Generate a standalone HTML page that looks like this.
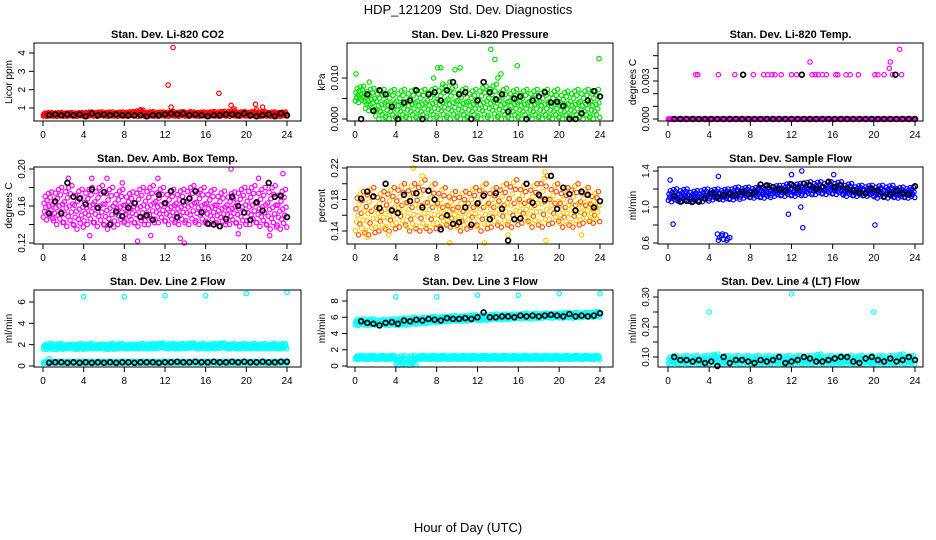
<!DOCTYPE html>
<html><head><meta charset="utf-8">
<style>
html,body{margin:0;padding:0;background:#fff;}
svg{display:block;font-family:"Liberation Sans",Arial,sans-serif;}
</style></head>
<body>
<svg id="chart" width="936" height="540" viewBox="0 0 936 540" xmlns="http://www.w3.org/2000/svg">
<text x="468" y="14" text-anchor="middle" font-size="13">HDP_121209&#160; Std. Dev. Diagnostics</text>
<text x="468" y="532" text-anchor="middle" font-size="13">Hour of Day (UTC)</text>
</svg>
<script>
// ---------- data ----------
const xTicks = [0,4,8,12,16,20,24];
const blackHoursStep = 0.6; // black points at 0.6,1.2,...,24

const co2Black = [0.6,0.65,0.6,0.65,0.6,0.65,0.55,0.7,0.6,0.65,0.6,0.65,0.6,0.6,0.6,0.6,0.55,0.6,0.6,0.65,0.7,0.65,0.7,0.6,0.65,0.6,0.55,0.6,0.6,0.65,0.65,0.6,0.7,0.6,0.55,0.6,0.65,0.55,0.7,0.6];
const co2Lo = [0.55,0.55,0.55,0.55,0.55,0.55,0.55,0.55,0.55,0.55,0.55,0.55,0.55,0.55,0.55,0.55,0.55,0.55,0.55,0.55,0.55,0.55,0.55,0.55];
const co2Hi = [0.75,0.75,0.75,0.75,0.78,0.78,0.78,0.78,0.8,0.88,0.8,0.78,0.8,0.8,0.78,0.78,0.8,0.82,0.85,0.8,0.8,0.8,0.78,0.78];
const co2Out = [[12.8,4.3],[12.3,2.25],[17.3,1.8],[12.6,1.05],[18.5,1.15],[20.9,1.2],[21.6,1.05],[21.0,0.9],[18.8,0.95],[9.6,0.9],[14.5,0.8]];

const presBlack = [0,0.006,0.002,0.007,0.006,0.003,0,0.004,0.0045,0.007,0,0.006,0.0065,0.0045,0.007,0.009,0.006,0.0065,0,0.0045,0.009,0.0065,0.0048,0.006,0.0018,0.005,0.0055,0,0.0045,0.0055,0.0065,0.004,0.0042,0.0032,0,0,0.0014,0.0045,0.0068,0.0055];
const presLo = [0.004,0.002,0,0,0,0,0,0,0,0,0,0,0,0,0,0,0,0,0,0,0,0,0,0];
const presHi = [0.008,0.0075,0.0072,0.0072,0.0072,0.0072,0.0072,0.0075,0.008,0.008,0.0075,0.0072,0.008,0.0085,0.0075,0.0072,0.0072,0.0072,0.0072,0.0072,0.0068,0.0072,0.0072,0.0072];
const presOut = [[0.1,0.011],[1.4,0.009],[7.7,0.010],[8.1,0.0125],[8.4,0.0125],[9.8,0.012],[10.3,0.0125],[13.3,0.017],[13.7,0.0145],[15.9,0.013],[23.9,0.0147],[14.3,0.011],[14.0,0.010],[8.6,0.0085],[9.3,0.009]];

const tempBlack = [0,0,0,0,0,0,0,0,0,0,0,0,0,0,0,0,0,0,0,0,0,0,0,0,0,0,0,0,0,0,0,0,0,0,0,0,0,0,0,0];
const tempLo = [0,0,0,0,0,0,0,0,0,0,0,0,0,0,0,0,0,0,0,0,0,0,0,0];
const tempHi = [0,0,0,0,0,0,0,0,0,0,0,0,0,0,0,0,0,0,0,0,0,0,0,0];
const tempOut = [[2.7,0.0035],[2.9,0.0035],[4.9,0.0035],[6.5,0.0035],[8.3,0.0035],[9.3,0.0035],[9.7,0.0035],[10.1,0.0035],[10.4,0.0035],[11,0.0035],[12,0.0035],[12.5,0.0035],[14,0.0035],[14.3,0.0035],[14.6,0.0035],[15,0.0035],[15.4,0.0035],[16.3,0.0035],[16.5,0.0035],[17.3,0.0035],[17.7,0.0035],[18.5,0.0035],[20.1,0.0035],[20.4,0.0035],[21,0.0035],[21.8,0.0035],[22.7,0.0035],[13.8,0.0045],[21.5,0.004],[21.6,0.0045],[22.5,0.0055]];
const tempBlackExtra = [[7.3,0.0035],[13,0.0035],[22.1,0.0035]];

const ambBlack = [0.152,0.165,0.152,0.185,0.17,0.168,0.162,0.178,0.158,0.175,0.14,0.154,0.149,0.158,0.163,0.148,0.15,0.145,0.172,0.163,0.176,0.148,0.165,0.168,0.176,0.153,0.141,0.14,0.138,0.146,0.17,0.16,0.153,0.145,0.164,0.155,0.185,0.17,0.171,0.148];
const ambLo = [0.145,0.14,0.138,0.135,0.14,0.138,0.135,0.14,0.14,0.138,0.14,0.142,0.14,0.14,0.14,0.14,0.14,0.138,0.14,0.138,0.14,0.138,0.135,0.135];
const ambHi = [0.175,0.18,0.182,0.178,0.18,0.182,0.18,0.178,0.175,0.18,0.182,0.18,0.178,0.178,0.182,0.18,0.178,0.176,0.175,0.18,0.182,0.18,0.182,0.178];
const ambOut = [[2.5,0.19],[4.8,0.19],[6.3,0.19],[11.3,0.19],[18.5,0.2],[23.6,0.195],[9.3,0.122],[13.5,0.125],[13.9,0.12],[4.6,0.128],[10.6,0.128],[19.2,0.13],[22.3,0.128],[21.2,0.19],[7.8,0.185]];

const rhBlack = [0.181,0.19,0.184,0.169,0.2,0.166,0.163,0.186,0.178,0.188,0.17,0.191,0.18,0.142,0.16,0.149,0.151,0.17,0.148,0.175,0.185,0.155,0.188,0.168,0.128,0.155,0.156,0.2,0.176,0.186,0.18,0.21,0.168,0.195,0.187,0.166,0.19,0.186,0.17,0.178];
const rhLo = [0.135,0.135,0.14,0.14,0.145,0.14,0.14,0.14,0.145,0.145,0.14,0.145,0.14,0.145,0.145,0.145,0.15,0.145,0.145,0.15,0.145,0.145,0.15,0.15];
const rhHi = [0.19,0.195,0.19,0.195,0.2,0.2,0.205,0.2,0.195,0.19,0.19,0.195,0.2,0.195,0.2,0.205,0.2,0.2,0.21,0.2,0.195,0.2,0.195,0.19];
const rhOut = [[5.7,0.22],[6.6,0.21],[9.3,0.125],[12.7,0.125],[18.6,0.215],[18.7,0.128],[1.2,0.132],[3.3,0.135],[22.2,0.135],[15.0,0.135]];

const flowBlack = [1.12,1.06,1.07,1.06,1.06,1.1,1.15,1.11,1.13,1.15,1.13,1.17,1.14,1.16,1.25,1.24,1.22,1.2,1.18,1.25,1.21,1.26,1.24,1.2,1.22,1.28,1.22,1.24,1.2,1.18,1.16,1.15,1.2,1.18,1.12,1.14,1.18,1.15,1.14,1.23];
const flowLo = [1.06,1.06,1.05,1.06,1.08,1.08,1.08,1.1,1.1,1.1,1.12,1.12,1.12,1.13,1.14,1.14,1.14,1.12,1.12,1.12,1.1,1.1,1.1,1.1];
const flowHi = [1.2,1.2,1.18,1.2,1.2,1.2,1.22,1.22,1.22,1.24,1.24,1.26,1.26,1.28,1.28,1.28,1.28,1.26,1.24,1.24,1.24,1.24,1.22,1.22];
const flowOut = [[0.2,1.3],[0.5,0.81],[4.9,1.34],[11.7,0.92],[13.1,0.77],[20.1,0.8],[13,1.4],[12,1.36],[16.1,1.36],[12.9,1.0],[4.8,0.7],[5.0,0.66],[5.2,0.68],[5.4,0.64],[5.6,0.69],[5.8,0.65],[6.0,0.66],[4.9,0.63],[5.3,0.7],[5.7,0.63]];

const l2Black = [0.3,0.35,0.35,0.3,0.35,0.3,0.35,0.3,0.35,0.3,0.35,0.3,0.35,0.35,0.3,0.35,0.35,0.35,0.3,0.35,0.35,0.4,0.35,0.35,0.4,0.35,0.35,0.4,0.35,0.35,0.4,0.35,0.4,0.35,0.35,0.4,0.35,0.35,0.4,0.4];
const l2Lo = [1.55,1.55,1.6,1.55,1.6,1.6,1.55,1.6,1.6,1.6,1.6,1.65,1.6,1.6,1.65,1.6,1.6,1.65,1.6,1.6,1.6,1.6,1.6,1.6];
const l2Hi = [2.1,2.1,2.05,2.1,2.1,2.05,2.1,2.1,2.05,2.1,2.1,2.15,2.1,2.1,2.15,2.1,2.1,2.15,2.1,2.1,2.1,2.1,2.1,2.1];
const l2Lo2 = [0.25,0.25,0.25,0.25,0.25,0.25,0.25,0.25,0.25,0.25,0.25,0.25,0.25,0.25,0.25,0.25,0.25,0.25,0.25,0.25,0.25,0.25,0.25,0.25];
const l2Hi2 = [0.45,0.45,0.45,0.45,0.45,0.45,0.45,0.45,0.45,0.45,0.45,0.45,0.45,0.45,0.45,0.45,0.45,0.45,0.45,0.45,0.45,0.45,0.45,0.45];
const l2Out = [[4,6.5],[8,6.5],[12,6.6],[16,6.6],[20,6.8],[24,6.9],[0.6,0.7]];

const l3Black = [5.5,5.3,5.2,5.0,5.3,5.4,5.2,5.6,5.5,5.7,5.6,5.8,5.7,5.6,5.9,5.8,5.8,5.9,5.8,6.0,6.6,6.0,6.0,6.1,6.1,6.0,6.2,6.1,6.2,6.1,6.2,6.3,6.2,6.1,6.4,6.1,6.2,6.1,6.2,6.5];
const l3Lo = [5.0,5.0,5.0,5.0,5.0,5.1,5.2,5.3,5.4,5.5,5.5,5.6,5.6,5.7,5.7,5.8,5.8,5.8,5.9,5.9,5.9,5.9,6.0,6.0];
const l3Hi = [5.8,5.8,5.7,5.8,5.9,6.0,6.0,6.1,6.1,6.2,6.2,6.3,6.3,6.4,6.4,6.4,6.5,6.5,6.5,6.5,6.6,6.6,6.6,6.7];
const l3Lo2 = [0.8,0.8,0.8,0.8,0.1,0.1,0.8,0.8,0.8,0.8,0.8,0.8,0.8,0.8,0.8,0.8,0.8,0.8,0.8,0.8,0.8,0.8,0.8,0.8];
const l3Hi2 = [1.3,1.3,1.3,1.3,1.3,1.3,1.3,1.3,1.3,1.3,1.3,1.3,1.3,1.3,1.3,1.3,1.3,1.3,1.3,1.3,1.3,1.3,1.3,1.3];
const l3Out = [[4,8.5],[8,8.5],[12,8.7],[16,8.7],[20,8.9],[24,8.9]];

const l4Black = [0.1,0.09,0.09,0.085,0.09,0.08,0.085,0.07,0.1,0.08,0.09,0.09,0.085,0.08,0.09,0.085,0.09,0.1,0.08,0.085,0.09,0.1,0.095,0.085,0.085,0.09,0.095,0.1,0.1,0.085,0.08,0.095,0.1,0.09,0.085,0.095,0.085,0.09,0.1,0.09];
const l4Lo = [0.075,0.075,0.075,0.075,0.075,0.075,0.075,0.075,0.075,0.075,0.075,0.075,0.075,0.075,0.075,0.075,0.075,0.075,0.075,0.075,0.075,0.075,0.075,0.075];
const l4Hi = [0.105,0.105,0.105,0.105,0.11,0.105,0.105,0.105,0.105,0.105,0.105,0.105,0.105,0.105,0.11,0.105,0.105,0.105,0.105,0.105,0.105,0.105,0.11,0.105];
const l4Out = [[4,0.25],[12,0.31],[20,0.25]];

// ---------- layout ----------
const cols = [{l:34,r:301,x0:43,x24:287},{l:347,r:613,x0:355,x24:600},{l:658,r:923,x0:668,x24:915}];
const rows = [{t:43,b:121},{t:167,b:244},{t:290,b:367}];
const FR = [0.1,0.6,0.3,0.85,0.45,0.0,0.7,0.25,0.95,0.5,0.15,0.8,0.35,1.0,0.55,0.05];

const panels = [
 {name:'co2',title:'Stan. Dev. Li-820 CO2',ylab:'Licor ppm',c:0,r:0,v0:1,p0:108,v1:4,p1:53,ticks:[1,2,3,4],labels:['1','2','3','4'],col:'#ff0000',black:co2Black,bands:[[co2Lo,co2Hi]],out:co2Out},
 {name:'pressure',title:'Stan. Dev. Li-820 Pressure',ylab:'kPa',c:1,r:0,v0:0,p0:119,v1:0.01,p1:78,ticks:[0,0.005,0.010],labels:['0.000','','0.010'],col:'#00e000',black:presBlack,bands:[[presLo,presHi]],out:presOut},
 {name:'li820-temp',title:'Stan. Dev. Li-820 Temp.',ylab:'degrees C',c:2,r:0,v0:0,p0:119,v1:0.003,p1:81,ticks:[0,0.001,0.002,0.003,0.004,0.005],labels:['0.000','','','0.003','',''],col:'#ff00ff',black:tempBlack,bands:[[tempLo,tempHi]],out:tempOut,blackExtra:tempBlackExtra},
 {name:'amb-box-temp',title:'Stan. Dev. Amb. Box Temp.',ylab:'degrees C',c:0,r:1,v0:0.12,p0:243,v1:0.2,p1:169,ticks:[0.12,0.14,0.16,0.18,0.2],labels:['0.12','','0.16','','0.20'],col:'#ff00ff',black:ambBlack,bands:[[ambLo,ambHi]],out:ambOut},
 {name:'gas-stream-rh',title:'Stan. Dev. Gas Stream RH',ylab:'percent',c:1,r:1,v0:0.14,p0:231,v1:0.22,p1:168,ticks:[0.14,0.16,0.18,0.2,0.22],labels:['0.14','','0.18','','0.22'],col:'#ffcc00',col2:'#ff5000',black:rhBlack,bands:[[rhLo,rhHi]],out:rhOut},
 {name:'sample-flow',title:'Stan. Dev. Sample Flow',ylab:'ml/min',c:2,r:1,v0:0.6,p0:243,v1:1.4,p1:171,ticks:[0.6,0.8,1.0,1.2,1.4],labels:['0.6','','1.0','','1.4'],col:'#0000ff',black:flowBlack,bands:[[flowLo,flowHi]],out:flowOut},
 {name:'line2-flow',title:'Stan. Dev. Line 2 Flow',ylab:'ml/min',c:0,r:2,v0:0,p0:366,v1:6,p1:302,ticks:[0,2,4,6],labels:['0','2','4','6'],col:'#00ffff',black:l2Black,bands:[[l2Lo,l2Hi],[l2Lo2,l2Hi2]],out:l2Out},
 {name:'line3-flow',title:'Stan. Dev. Line 3 Flow',ylab:'ml/min',c:1,r:2,v0:0,p0:366,v1:8,p1:301,ticks:[0,2,4,6,8],labels:['0','2','4','6','8'],col:'#00ffff',black:l3Black,bands:[[l3Lo,l3Hi],[l3Lo2,l3Hi2]],out:l3Out},
 {name:'line4-flow',title:'Stan. Dev. Line 4 (LT) Flow',ylab:'ml/min',c:2,r:2,v0:0.1,p0:357,v1:0.3,p1:297,ticks:[0.1,0.15,0.2,0.25,0.3],labels:['0.10','','0.20','','0.30'],col:'#00ffff',black:l4Black,bands:[[l4Lo,l4Hi]],out:l4Out}
];

const NS='http://www.w3.org/2000/svg';
const svg=document.getElementById('chart');
function mk(tag,attrs,parent){const e=document.createElementNS(NS,tag);for(const k in attrs)e.setAttribute(k,attrs[k]);(parent||svg).appendChild(e);return e;}

panels.forEach(p=>{
  const C=cols[p.c], R=rows[p.r];
  const g=mk('g',{});
  
  
  const xs=h=>C.x0+(C.x24-C.x0)*h/24;
  const ys=v=>p.p0+(p.p1-p.p0)*(v-p.v0)/(p.v1-p.v0);
  const pg=mk('g',{},g);
  
  
  const dot=(h,v,stroke,w,r,nm)=>{const y=ys(v);if(y<R.t-3||y>R.b+3)return;
    const c=mk('circle',{cx:xs(h).toFixed(1),cy:y.toFixed(1),r:r,fill:'none',stroke:stroke,'stroke-width':w},pg);
    
    };
  p.bands.forEach(b=>{
    for(let h=0;h<24;h++){for(let k=0;k<16;k++){
      const v=b[0][h]+FR[k]*(b[1][h]-b[0][h]);
      const s=p.col2&&(k%2)?p.col2:p.col;
      dot(h+(k+0.5)/16,v,s,1.2,2.2,'color-point');}}
  });
  p.out.forEach(o=>dot(o[0],o[1],p.col,1.2,2.2,'outlier-point'));
  p.black.forEach((v,i)=>dot((i+1)*blackHoursStep,v,'#000',1.7,2.4,'hourly-point'));
  (p.blackExtra||[]).forEach(o=>dot(o[0],o[1],'#000',1.7,2.4,'hourly-point'));
  const box=mk('rect',{x:C.l,y:R.t,width:C.r-C.l,height:R.b-R.t,fill:'none',stroke:'#000','stroke-width':1},g);
  
  
  const t=mk('text',{x:(C.l+C.r)/2,y:R.t-5,'text-anchor':'middle','font-size':11,'font-weight':'bold'},g);
  t.textContent=p.title;
  
  
  mk('line',{x1:xs(0),x2:xs(24),y1:R.b,y2:R.b,stroke:'#000'},g);
  xTicks.forEach(h=>{
    mk('line',{x1:xs(h),x2:xs(h),y1:R.b,y2:R.b+5,stroke:'#000'},g);
    const tl=mk('text',{x:xs(h),y:R.b+17,'text-anchor':'middle','font-size':10},g);
    tl.textContent=h;
    
    
  });
  p.ticks.forEach((v,i)=>{
    const y=ys(v);
    mk('line',{x1:C.l-5,x2:C.l,y1:y,y2:y,stroke:'#000'},g);
    if(p.labels[i]){
      const tl=mk('text',{x:C.l-9,y:y,'text-anchor':'middle','font-size':10,transform:`rotate(-90 ${C.l-9} ${y})`},g);
      tl.textContent=p.labels[i];
      
      
    }
  });
  const yl=mk('text',{x:C.l-22,y:(R.t+R.b)/2,'text-anchor':'middle','font-size':10,transform:`rotate(-90 ${C.l-22} ${(R.t+R.b)/2})`},g);
  yl.textContent=p.ylab;
  
  
});
</script>
</body></html>
